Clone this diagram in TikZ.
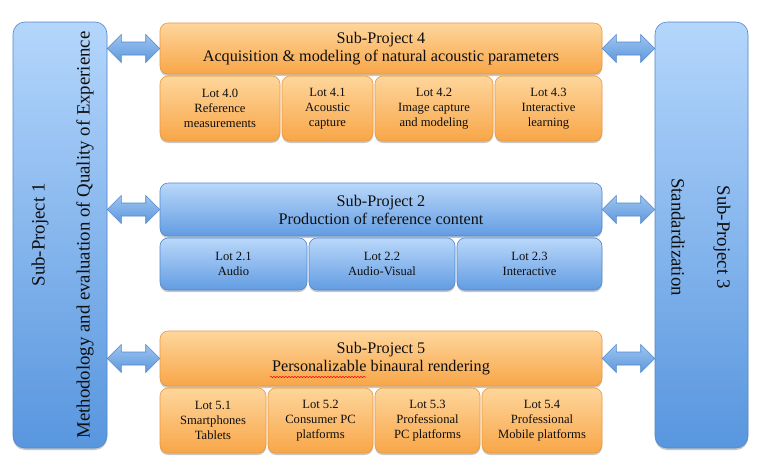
\documentclass[tikz,border=0pt]{standalone}
\usepackage{fontspec}
\setmainfont{Liberation Serif}
\usetikzlibrary{shadows,calc,decorations.pathmorphing}
\definecolor{orT}{RGB}{254,214,156}
\definecolor{orB}{RGB}{248,166,72}
\definecolor{orD}{RGB}{234,152,64}
\definecolor{blT}{RGB}{186,216,250}
\definecolor{blB}{RGB}{98,156,226}
\definecolor{blD}{RGB}{82,136,204}
\definecolor{barT}{RGB}{180,214,252}
\definecolor{barB}{RGB}{88,150,222}
\definecolor{arT}{RGB}{156,196,240}
\definecolor{arB}{RGB}{94,152,220}
\definecolor{txt}{RGB}{15,15,15}
\tikzset{
  box/.style={rounded corners=8pt, line width=0.6pt, align=center, inner sep=0pt, text=txt,
    drop shadow={shadow xshift=0pt, shadow yshift=-2pt, opacity=0.22, fill=black}},
  orbox/.style={box, draw=orD, top color=orT, bottom color=orB},
  blbox/.style={box, draw=blD, top color=blT, bottom color=blB},
  headfont/.style={font=\fontsize{16.2}{18}\selectfont},
  lotfont/.style={font=\fontsize{12.6}{15}\selectfont},
  bar/.style={rounded corners=12pt, line width=0.6pt, draw=blD, top color=barT, bottom color=barB,
    minimum width=94pt, minimum height=426pt, inner sep=0pt,
    drop shadow={shadow xshift=0pt, shadow yshift=-2pt, opacity=0.22, fill=black}},
  vtext/.style={font=\fontsize{18.8}{20}\selectfont, text=txt, inner sep=0pt},
  darr/.style={draw=blD, line width=0.6pt, top color=arT, bottom color=arB},
}
\newcommand\dblarrow[2]{%
  \draw[darr] (#1) -- ($(#1)+(14,-14)$) -- ($(#1)+(14,-6.5)$) -- ($(#2)+(-14,-6.5)$) -- ($(#2)+(-14,-14)$)
    -- (#2) -- ($(#2)+(-14,14)$) -- ($(#2)+(-14,6.5)$) -- ($(#1)+(14,6.5)$) -- ($(#1)+(14,14)$) -- cycle;}
\begin{document}
\begin{tikzpicture}[x=1pt,y=-1pt]
\useasboundingbox (0,0) rectangle (769,475);
\fill[white] (0,0) rectangle (769,475);
% side bars
\node[bar] (L) at (60,235) {};
\node[bar, minimum width=93pt] (R) at (701.5,235) {};
\node[vtext, rotate=90] (t1) at (40,235) {Sub-Project 1};
\node[vtext, rotate=90] (t1b) at (85,235) {Methodology and evaluation of Quality of Experience};
\node[vtext, rotate=-90] (t3) at (722,237) {Sub-Project 3};
\node[vtext, rotate=-90] (t3b) at (678,237) {Standardization};
% Sub-Project 4
\node[orbox, headfont, minimum width=442pt, minimum height=51pt] (S4) at (381,48.5)
  {Sub-Project 4\\Acquisition \& modeling of natural acoustic parameters};
\node[orbox, lotfont, minimum width=120pt, minimum height=65pt] (L40) at (220,108.5) {Lot 4.0\\Reference\\measurements};
\node[orbox, lotfont, minimum width=91pt, minimum height=65pt] (L41) at (327.5,108.5) {Lot 4.1\\Acoustic\\capture};
\node[orbox, lotfont, minimum width=118pt, minimum height=65pt] (L42) at (434,108.5) {Lot 4.2\\Image capture\\and modeling};
\node[orbox, lotfont, minimum width=107pt, minimum height=65pt] (L43) at (548.5,108.5) {Lot 4.3\\Interactive\\learning};
% Sub-Project 2
\node[blbox, headfont, minimum width=442pt, minimum height=53pt] (S2) at (381,209.5)
  {Sub-Project 2\\Production of reference content};
\node[blbox, lotfont, minimum width=147pt, minimum height=52pt] (L21) at (233.5,264) {Lot 2.1\\Audio};
\node[blbox, lotfont, minimum width=146pt, minimum height=52pt] (L22) at (382,264) {Lot 2.2\\Audio-Visual};
\node[blbox, lotfont, minimum width=145pt, minimum height=52pt] (L23) at (529.5,264) {Lot 2.3\\Interactive};
% Sub-Project 5
\node[orbox, headfont, minimum width=442pt, minimum height=55pt] (S5) at (381,358.5)
  {Sub-Project 5\\Personalizable binaural rendering};
\node[orbox, lotfont, minimum width=106pt, minimum height=65pt] (L51) at (213,420.5) {Lot 5.1\\Smartphones\\Tablets};
\node[orbox, lotfont, minimum width=105pt, minimum height=65pt] (L52) at (320.5,420.5) {Lot 5.2\\Consumer PC\\platforms};
\node[orbox, lotfont, minimum width=105pt, minimum height=65pt] (L53) at (427.5,420.5) {Lot 5.3\\Professional\\PC platforms};
\node[orbox, lotfont, minimum width=120pt, minimum height=65pt] (L54) at (542,420.5) {Lot 5.4\\Professional\\Mobile platforms};
\draw[red, line width=0.5pt, decorate, decoration={snake, amplitude=0.7pt, segment length=3pt}]
  ($(S5.center)+(-111,18.5)$) -- ($(S5.center)+(-15,18.5)$);
% arrows
\coordinate (a4) at (L.east |- S4.west);
\coordinate (b4) at (R.west |- S4.east);
\coordinate (a2) at (L.east |- S2.west);
\coordinate (b2) at (R.west |- S2.east);
\coordinate (a5) at (L.east |- S5.west);
\coordinate (b5) at (R.west |- S5.east);
\dblarrow{a4}{S4.west}
\dblarrow{S4.east}{b4}
\dblarrow{a2}{S2.west}
\dblarrow{S2.east}{b2}
\dblarrow{a5}{S5.west}
\dblarrow{S5.east}{b5}
\end{tikzpicture}
\end{document}
